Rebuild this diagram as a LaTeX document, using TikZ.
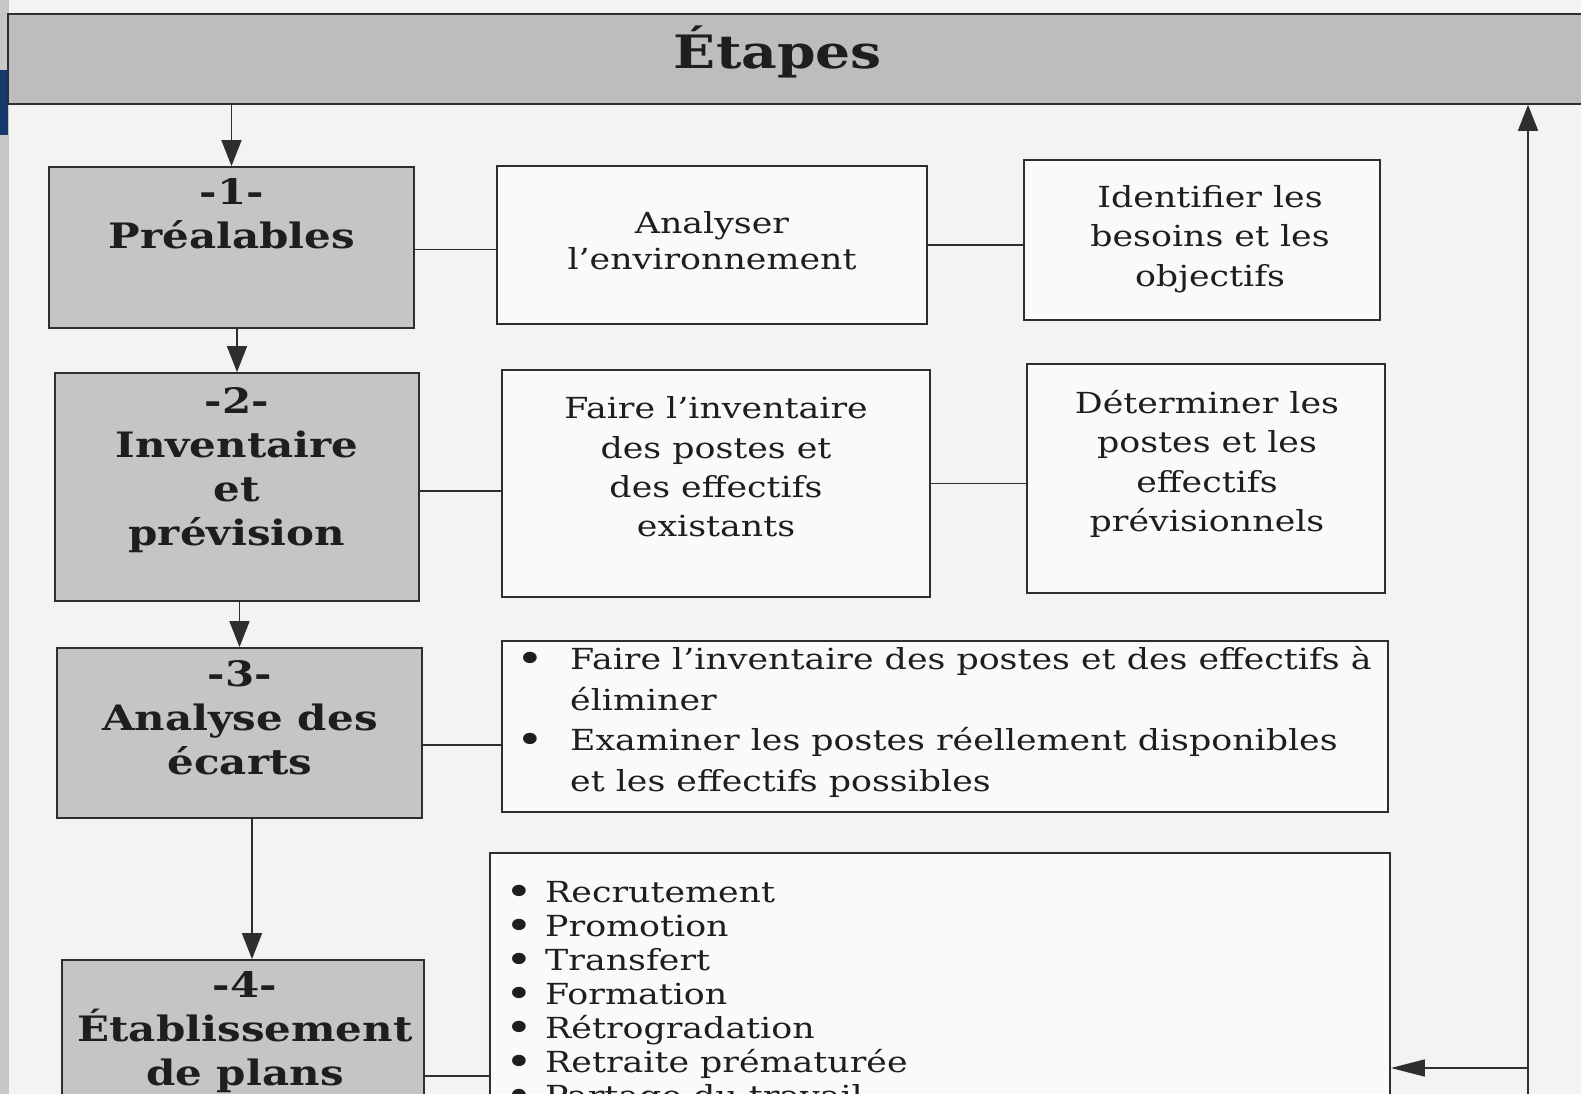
\documentclass[tikz,border=0pt]{standalone}
\usepackage{fontspec}
\setmainfont{DejaVu Serif}[FakeStretch=1.2]
\usetikzlibrary{arrows.meta}
\definecolor{paper}{HTML}{F3F3F1}
\definecolor{edge}{HTML}{C8C8C8}
\definecolor{navy}{HTML}{17386B}
\definecolor{band}{HTML}{BDBDBD}
\definecolor{boxgray}{HTML}{C5C5C5}
\definecolor{ink}{HTML}{2E2E2E}
\definecolor{txt}{HTML}{1E1E1E}
\tikzset{
  graybox/.style={draw=ink, line width=1.8pt, fill=boxgray, rectangle, inner sep=0pt},
  whitebox/.style={draw=ink, line width=1.8pt, fill=white!60!paper, rectangle, inner sep=0pt},
  ttl/.style={font=\fontsize{35}{44}\selectfont\bfseries, text=txt, align=center, inner sep=0pt},
  bodytxt/.style={font=\fontsize{29}{39.3}\selectfont, text=txt, align=center, inner sep=0pt},
  conn/.style={draw=ink, line width=1.6pt},
  arr/.style={draw=ink, line width=1.6pt, -{Triangle[length=26pt,width=20pt]}},
  arrl/.style={draw=ink, line width=1.6pt, -{Triangle[length=34pt,width=17pt]}}
}
\newcommand{\bul}[1]{\makebox[#1][l]{\raisebox{-0.1em}[0pt][0pt]{\scalebox{1.35}{\textbullet}}}}
\begin{document}
\begin{tikzpicture}[x=1pt,y=-1pt]
\useasboundingbox (0,0) rectangle (1581,1094);
\clip (0,0) rectangle (1581,1094);
\fill[paper] (0,0) rectangle (1581,1094);
\fill[edge] (0,0) rectangle (9,1094);
\fill[navy] (0,70) rectangle (8,135);

% header band
\node[draw=ink, line width=1.6pt, fill=band, minimum width=1574pt, minimum height=90pt, inner sep=0pt] (band) at (795,59) {};
\node[font=\fontsize{46}{50}\selectfont\bfseries, text=txt] (title) at (778,52) {Étapes};

% left column
\node[graybox, minimum width=365pt, minimum height=161pt] (b1) at (231.5,247.5) {};
\node[graybox, minimum width=364pt, minimum height=228pt] (b2) at (237,487) {};
\node[graybox, minimum width=365pt, minimum height=170pt] (b3) at (239.5,733) {};
\node[graybox, minimum width=362pt, minimum height=170pt] (b4) at (243,1045) {};

\node[ttl] (t1) at (232,214) {-1-\\Préalables};
\node[ttl] (t2) at (237,470) {-2-\\Inventaire\\et\\prévision};
\node[ttl] (t3) at (240,718) {-3-\\Analyse des\\écarts};
\node[ttl] (t4) at (245,1032) {-4-\\Établissement\\de plans};

% middle / right boxes
\node[whitebox, minimum width=430pt, minimum height=158pt] (b1a) at (712,245) {};
\node[whitebox, minimum width=356pt, minimum height=160pt] (b1b) at (1202,240) {};
\node[whitebox, minimum width=428pt, minimum height=227pt] (b2a) at (716,483.5) {};
\node[whitebox, minimum width=358pt, minimum height=229pt] (b2b) at (1206,478.5) {};
\node[whitebox, minimum width=886pt, minimum height=171pt] (b3a) at (945,726.5) {};
\node[whitebox, minimum width=900pt, minimum height=277pt] (b4a) at (940,991.5) {};

\node[bodytxt, font=\fontsize{29}{36}\selectfont] (x1a) at (712,241) {Analyser\\l’environnement};
\node[bodytxt] (x1b) at (1210,239) {Identifier les\\besoins et les\\objectifs};
\node[bodytxt] (x2a) at (716,467) {Faire l’inventaire\\des postes et\\des effectifs\\existants};
\node[bodytxt] (x2b) at (1207,464) {Déterminer les\\postes et les\\effectifs\\prévisionnels};
\node[bodytxt, font=\fontsize{29}{40.5}\selectfont, align=left, anchor=west] (x3a) at (516,722) {\bul{54pt}Faire l’inventaire des postes et des effectifs à\\\hspace*{54pt}éliminer\\\bul{54pt}Examiner les postes réellement disponibles\\\hspace*{54pt}et les effectifs possibles};
\node[bodytxt, font=\fontsize{29}{34}\selectfont, align=left, anchor=north west] (x4a) at (505,881) {\bul{40pt}Recrutement\\\bul{40pt}Promotion\\\bul{40pt}Transfert\\\bul{40pt}Formation\\\bul{40pt}Rétrogradation\\\bul{40pt}Retraite prématurée\\\bul{40pt}Partage du travail};

% vertical arrows
\draw[arr] (b1.north |- band.south) -- (b1.north);
\draw[arr] (b2.north |- b1.south) -- (b2.north);
\draw[arr] (b3.north |- b2.south) -- (b3.north);
\coordinate (a4) at ([xshift=9pt]b4.north);
\draw[arr] (a4 |- b3.south) -- (a4);

% horizontal connectors
\coordinate (c1) at ([yshift=-2pt]b1.east);
\draw[conn] (c1) -- (c1 -| b1a.west);
\draw[conn] (b1a.east) -- (b1a.east -| b1b.west);
\coordinate (c2) at ([yshift=-4pt]b2.east);
\draw[conn] (c2) -- (c2 -| b2a.west);
\draw[conn] (b2a.east) -- (b2a.east -| b2b.west);
\coordinate (c3) at ([yshift=-12pt]b3.east);
\draw[conn] (c3) -- (c3 -| b3a.west);
\coordinate (c4) at ([yshift=-31pt]b4.east);
\draw[conn] (c4) -- (c4 -| b4a.west);

% feedback loop
\coordinate (fbot) at (1528,1120);
\coordinate (fj) at (1528,1068);
\draw[arr] (fbot) -- (fbot |- band.south);
\draw[arrl] (fj) -- (fj -| b4a.east);
\end{tikzpicture}
\end{document}
